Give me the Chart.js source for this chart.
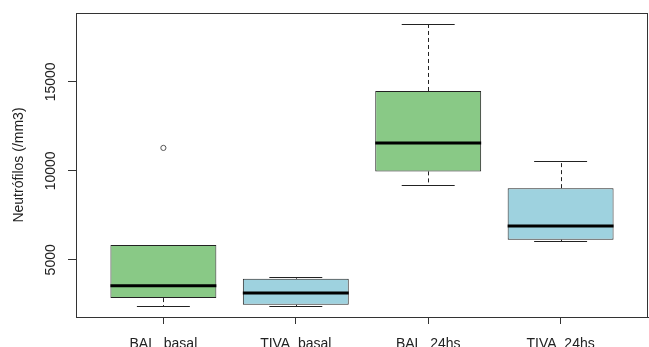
<!DOCTYPE html>
<html>
<head>
<meta charset="utf-8">
<script src="https://cdn.jsdelivr.net/npm/chart.js@4/dist/chart.umd.min.js"></script>
<style>
  html, body { margin: 0; padding: 0; background: #ffffff; }
  #wrap { width: 649px; height: 347px; }
</style>
</head>
<body>
<div id="wrap"><canvas id="c" width="649" height="347"></canvas></div>
<script>
// Neutrophil counts per group: five-number summaries and outliers
const categories    = ['BAL_basal', 'TIVA_basal', 'BAL_24hs', 'TIVA_24hs'];
const lowerWhisker  = [2420, 2420, 9220, 6080];
const lowerQuartile = [2850, 2470, 9970, 6130];
const medianValue   = [3550, 3140, 11570, 6900];
const upperQuartile = [5830, 3940, 14490, 9030];
const upperWhisker  = [5830, 4020, 18240, 10540];
const outlierGroup  = [1];
const outlierValue  = [11290];
const yTickValues   = [5000, 10000, 15000];

const fillColors = ['#89C986', '#9ED2DF', '#89C986', '#9ED2DF'];
const FONT = "'Liberation Sans', Arial, sans-serif";
const INK = '#222222';

// value range padded by 4% on each side
const allValues = lowerWhisker.concat(upperWhisker, outlierValue);
const lo = Math.min(...allValues), hi = Math.max(...allValues);
const pad = 0.04 * (hi - lo);
const xPad = 0.04 * categories.length;

// whiskers, caps, medians, frame and the rotated y labels
const boxDetails = {
  id: 'boxDetails',
  afterDatasetsDraw(chart) {
    const { ctx, chartArea: a } = chart;
    const x = chart.scales.x, y = chart.scales.y;
    ctx.save();
    categories.forEach((name, i) => {
      const cx = Math.round(x.getPixelForValue(i + 1)) + 0.5;
      const capL = x.getPixelForValue(i + 1 - 0.2);
      const capR = x.getPixelForValue(i + 1 + 0.2);
      const boxL = x.getPixelForValue(i + 1 - 0.4);
      const boxR = x.getPixelForValue(i + 1 + 0.4);
      const yLw = Math.round(y.getPixelForValue(lowerWhisker[i])) + 0.5;
      const yQ1 = y.getPixelForValue(lowerQuartile[i]);
      const yQ3 = y.getPixelForValue(upperQuartile[i]);
      const yUw = Math.round(y.getPixelForValue(upperWhisker[i])) + 0.5;
      const yMd = y.getPixelForValue(medianValue[i]);

      ctx.strokeStyle = INK;
      ctx.lineWidth = 1;
      ctx.setLineDash([4, 3]);
      ctx.beginPath();
      if (yUw < yQ3 - 1) { ctx.moveTo(cx, yQ3); ctx.lineTo(cx, yUw); }
      if (yLw > yQ1 + 1) { ctx.moveTo(cx, yQ1); ctx.lineTo(cx, yLw); }
      ctx.stroke();
      ctx.setLineDash([]);

      ctx.beginPath();
      ctx.moveTo(capL, yUw); ctx.lineTo(capR, yUw);
      ctx.moveTo(capL, yLw); ctx.lineTo(capR, yLw);
      ctx.stroke();

      ctx.lineWidth = 3;
      ctx.strokeStyle = '#000000';
      ctx.beginPath();
      ctx.moveTo(boxL, yMd); ctx.lineTo(boxR, yMd);
      ctx.stroke();
    });

    // frame around the plotting region
    ctx.lineWidth = 1;
    ctx.strokeStyle = '#333333';
    ctx.strokeRect(a.left + 0.5, a.top + 0.5, a.right - a.left - 1, a.bottom - a.top);

    // y tick labels, written parallel to the axis
    ctx.fillStyle = INK;
    ctx.font = '14px ' + FONT;
    ctx.textAlign = 'center';
    ctx.textBaseline = 'middle';
    yTickValues.forEach(v => {
      ctx.save();
      ctx.translate(51, y.getPixelForValue(v));
      ctx.rotate(-Math.PI / 2);
      ctx.fillText(String(v), 0, 0);
      ctx.restore();
    });
    ctx.restore();
  }
};

new Chart(document.getElementById('c'), {
  type: 'bar',
  data: {
    datasets: [
      {
        type: 'bar',
        data: categories.map((c, i) => ({ x: i + 1, y: [lowerQuartile[i], upperQuartile[i]] })),
        backgroundColor: fillColors,
        borderColor: INK,
        borderWidth: 1,
        borderSkipped: false,
        categoryPercentage: 1,
        barPercentage: 0.8,
        grouped: false
      },
      {
        type: 'scatter',
        data: outlierGroup.map((g, k) => ({ x: g, y: outlierValue[k] })),
        pointRadius: 2.6,
        pointBackgroundColor: '#ffffff',
        pointBorderColor: '#555555',
        pointBorderWidth: 1
      }
    ]
  },
  options: {
    responsive: false,
    animation: false,
    devicePixelRatio: 1,
    layout: { autoPadding: false, padding: { top: 13, right: 1, left: 0, bottom: 0 } },
    plugins: { legend: { display: false }, tooltip: { enabled: false } },
    scales: {
      x: {
        type: 'linear',
        min: 1 - 0.5 - xPad,
        max: categories.length + 0.5 + xPad,
        offset: false,
        afterBuildTicks: s => { s.ticks = categories.map((c, i) => ({ value: i + 1 })); },
        afterFit: s => { s.height = 30; s.paddingLeft = 0; s.paddingRight = 0; },
        grid: { drawOnChartArea: false, drawTicks: true, tickLength: 7, color: '#333333', offset: false },
        border: { display: true, color: '#333333' },
        ticks: {
          autoSkip: false,
          maxRotation: 0,
          minRotation: 0,
          padding: 12,
          color: INK,
          font: { family: FONT, size: 14 },
          callback: (v) => categories[Math.round(v) - 1] || ''
        }
      },
      y: {
        type: 'linear',
        min: lo - pad,
        max: hi + pad,
        afterBuildTicks: s => { s.ticks = yTickValues.map(v => ({ value: v })); },
        afterFit: s => { s.width = 76; },
        grid: { drawOnChartArea: false, drawTicks: true, tickLength: 8, color: '#333333' },
        border: { display: true, color: '#333333' },
        ticks: { display: false },
        title: {
          display: true,
          text: 'Neutrófilos (/mm3)',
          color: INK,
          font: { family: FONT, size: 14 },
          padding: { top: 11, bottom: 0 }
        }
      }
    }
  },
  plugins: [boxDetails]
});
</script>
</body>
</html>
